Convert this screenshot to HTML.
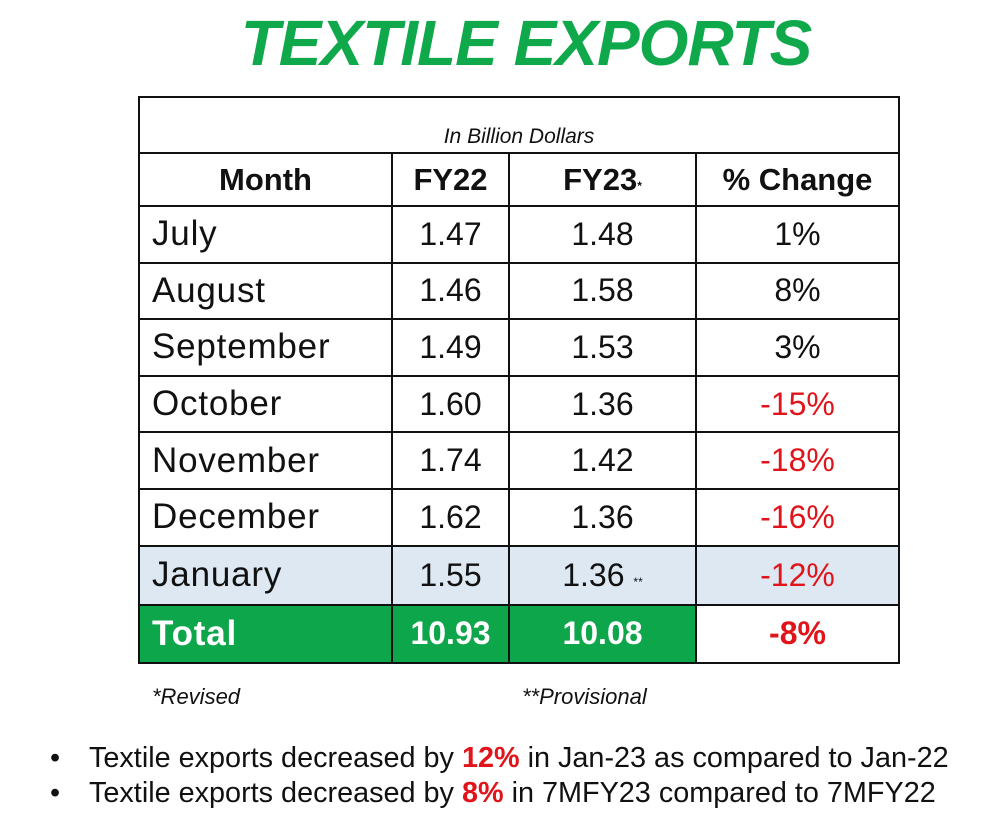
<!DOCTYPE html>
<html><head><meta charset="utf-8"><style>
body{margin:0;width:1001px;height:823px;background:#fff;position:relative;overflow:hidden;font-family:"Liberation Sans",sans-serif;}
.t{position:absolute;white-space:nowrap;}
.title{left:0;width:1052px;top:6px;text-align:center;font-size:64px;font-weight:bold;font-style:italic;color:#0fa84a;letter-spacing:-1px;}
table{position:absolute;left:138px;top:96px;border-collapse:collapse;}
td{border:2px solid #111;padding:0;font-size:32px;color:#111;text-align:center;height:54.6px;}
td.m{text-align:left;padding-left:12px;font-size:35px;letter-spacing:0.8px;}
tr.h td{font-weight:bold;font-size:31px;height:51px;}
.neg{color:#e0141a;}
tr.jan td{background:#dde8f3;height:57px;}
tr.tot td{background:#0ea64b;color:#fff;font-weight:bold;height:56px;}
tr.tot td.w{background:#fff;color:#e0141a;}
.b{font-size:28.8px;color:#111;}
.b span{color:#e0141a;font-weight:bold;}
</style></head><body>
<div class="t title">TEXTILE EXPORTS</div>
<table>
<colgroup><col style="width:253px"><col style="width:117px"><col style="width:187px"><col style="width:203px"></colgroup>
<tr><td colspan="4" style="font-size:21px;font-style:italic;height:51px;vertical-align:bottom;padding-bottom:3px">In Billion Dollars</td></tr>
<tr class="h"><td style="font-size:31px;letter-spacing:0;padding:0;text-align:center">Month</td><td>FY22</td><td>FY23<span style="font-size:12px">*</span></td><td>% Change</td></tr>
<tr><td class="m">July</td><td>1.47</td><td>1.48</td><td>1%</td></tr>
<tr><td class="m">August</td><td>1.46</td><td>1.58</td><td>8%</td></tr>
<tr><td class="m">September</td><td>1.49</td><td>1.53</td><td>3%</td></tr>
<tr><td class="m">October</td><td>1.60</td><td>1.36</td><td class="neg">-15%</td></tr>
<tr><td class="m">November</td><td>1.74</td><td>1.42</td><td class="neg">-18%</td></tr>
<tr><td class="m">December</td><td>1.62</td><td>1.36</td><td class="neg">-16%</td></tr>
<tr class="jan"><td class="m">January</td><td>1.55</td><td>1.36 <span style="font-size:12px">**</span></td><td class="neg">-12%</td></tr>
<tr class="tot"><td class="m" style="font-weight:bold">Total</td><td>10.93</td><td>10.08</td><td class="w">-8%</td></tr>
</table>
<div class="t" style="left:152px;top:684px;font-size:22px;font-style:italic;color:#111">*Revised</div>
<div class="t" style="left:522px;top:684px;font-size:22px;font-style:italic;color:#111">**Provisional</div>
<div class="t b" style="left:50px;top:742px">•</div>
<div class="t b" style="left:89px;top:742px">Textile exports decreased by <span>12%</span> in Jan-23 as compared to Jan-22</div>
<div class="t b" style="left:50px;top:777px">•</div>
<div class="t b" style="left:89px;top:777px">Textile exports decreased by <span>8%</span> in 7MFY23 compared to 7MFY22</div>
</body></html>
